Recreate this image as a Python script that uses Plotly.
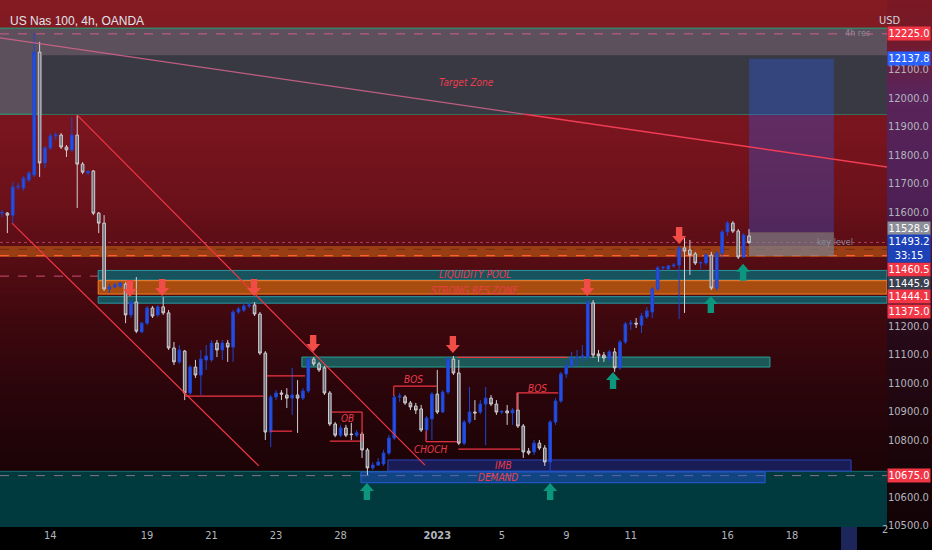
import plotly.graph_objects as go

TITLE = "US Nas 100, 4h, OANDA"

# ---------------- data (4h candles) ----------------
opens = [11596, 11596, 11589, 11688, 11684, 11712, 11730, 12161, 11772, 11825,
         11867, 11870, 11828, 11818, 11870, 11768, 11737, 11744, 11596, 11561,
         11330, 11337, 11340, 11347, 11239, 11284, 11179, 11210, 11263, 11239,
         11267, 11246, 11123, 11074, 11112, 10965, 11056, 11028, 11081, 11081,
         11140, 11116, 11140, 11126, 11249, 11256, 11270, 11274, 11242, 11105,
         10828, 10951, 10965, 10958, 10947, 10958, 10947, 10972, 11084, 11067,
         11053, 10965, 10856, 10817, 10842, 10821, 10817, 10821, 10765, 10702,
         10712, 10716, 10754, 10807, 10951, 10951, 10930, 10919, 10909, 10835,
         10874, 10961, 10898, 10968, 11084, 11035, 10789, 10863, 10898, 10898,
         10926, 10947, 10926, 10898, 10902, 10895, 10905, 10849, 10761, 10758,
         10789, 10772, 10723, 10863, 10937, 11032, 11060, 11088, 11091, 11091,
         11281, 11102, 11098, 11084, 11109, 11053, 11144, 11207, 11210, 11203,
         11232, 11249, 11330, 11404, 11400, 11411, 11414, 11474, 11467, 11453,
         11421, 11421, 11449, 11333, 11456, 11530, 11561, 11533, 11442, 11516]
highs = [11607, 11600, 11705, 11702, 11726, 11744, 12228, 12197, 11832, 11877,
         11881, 11877, 11835, 11933, 11940, 11775, 11747, 11747, 11600, 11589,
         11347, 11351, 11354, 11354, 11291, 11372, 11214, 11270, 11270, 11274,
         11302, 11256, 11144, 11133, 11116, 11063, 11081, 11116, 11133, 11151,
         11151, 11151, 11151, 11256, 11267, 11281, 11284, 11284, 11249, 11112,
         10958, 10975, 10975, 10982, 11053, 11010, 10982, 11091, 11091, 11074,
         11060, 10972, 10863, 10853, 10853, 10860, 10835, 10828, 10772, 10723,
         10737, 10765, 10817, 10958, 10965, 10958, 10937, 10930, 10923, 10884,
         10968, 11046, 10975, 11091, 11095, 11081, 10870, 10986, 10940, 10940,
         10986, 10958, 10940, 10905, 10923, 10912, 10965, 10856, 10772, 10800,
         10800, 10782, 10870, 10947, 11039, 11081, 11109, 11116, 11133, 11291,
         11291, 11116, 11109, 11116, 11123, 11151, 11214, 11221, 11228, 11246,
         11267, 11337, 11411, 11411, 11414, 11421, 11481, 11509, 11502, 11460,
         11425, 11456, 11460, 11463, 11537, 11568, 11568, 11540, 11526, 11540]
lows = [11582, 11526, 11561, 11677, 11674, 11705, 11723, 11723, 11754, 11818,
        11853, 11821, 11793, 11811, 11614, 11733, 11730, 11589, 11526, 11323,
        11316, 11333, 11333, 11210, 11228, 11175, 11175, 11203, 11228, 11232,
        11239, 11116, 11063, 11067, 10940, 10958, 11018, 10958, 11046, 11074,
        11091, 11081, 11074, 11074, 11242, 11249, 11263, 11235, 11098, 10800,
        10775, 10940, 10940, 10912, 10888, 10825, 10940, 10965, 11060, 11039,
        10958, 10849, 10810, 10810, 10810, 10800, 10810, 10737, 10677, 10695,
        10709, 10709, 10747, 10800, 10933, 10923, 10905, 10891, 10828, 10800,
        10800, 10891, 10895, 10961, 11028, 10782, 10782, 10856, 10870, 10891,
        10782, 10919, 10888, 10891, 10853, 10853, 10842, 10737, 10747, 10747,
        10765, 10709, 10684, 10853, 10930, 11018, 11053, 11060, 11074, 11081,
        11088, 11074, 11074, 11074, 11039, 11046, 11137, 11186, 11193, 11175,
        11225, 11228, 11323, 11396, 11396, 11404, 11225, 11246, 11379, 11414,
        11400, 11414, 11326, 11323, 11439, 11516, 11526, 11435, 11439, 11488]
closes = [11598, 11589, 11688, 11690, 11719, 11737, 12161, 11772, 11825, 11867,
          11870, 11828, 11818, 11870, 11768, 11740, 11742, 11596, 11561, 11330,
          11337, 11344, 11351, 11239, 11284, 11182, 11210, 11263, 11235, 11267,
          11246, 11123, 11074, 11116, 10965, 11056, 11028, 11084, 11095, 11140,
          11116, 11140, 11126, 11249, 11260, 11270, 11274, 11242, 11105, 10828,
          10951, 10965, 10961, 10947, 10958, 10947, 10972, 11084, 11067, 11046,
          10965, 10856, 10817, 10842, 10817, 10819, 10825, 10765, 10702, 10712,
          10723, 10754, 10807, 10951, 10954, 10930, 10916, 10905, 10835, 10877,
          10961, 10898, 10968, 11084, 11035, 10789, 10863, 10898, 10895, 10926,
          10947, 10926, 10898, 10900, 10895, 10905, 10849, 10758, 10754, 10789,
          10772, 10723, 10863, 10937, 11032, 11060, 11088, 11090, 11095, 11281,
          11098, 11095, 11088, 11109, 11053, 11144, 11207, 11210, 11207, 11235,
          11253, 11330, 11404, 11406, 11411, 11414, 11474, 11463, 11449, 11421,
          11423, 11449, 11333, 11456, 11530, 11561, 11533, 11442, 11519, 11493.2]
candle_idx = list(range(len(closes)))

date_tick_idx = [9, 27, 39, 51, 63, 81, 93, 105, 117, 135, 147]
date_tick_text = ["14", "19", "21", "23", "28", "<b>2023</b>", "5", "9", "11", "16", "18"]
# price ticks that are not covered by the right-axis price labels
price_ticks = [10500, 10600, 10800, 10900, 11000, 11100, 11200,
               11600, 11700, 11800, 11900, 12000, 12100]

# zones (index range, price range)
target_outer = [12245, 11943]
target_inner_start = 7.45
target_inner = [12150, 11943]
position_x = [139, 154.8]
position_tp, position_entry, position_stop = 12137.8, 11528.9, 11445.9
key_level = [11481, 11442]
key_level_lines = [11469, 11447]
zones_start = 17.9
liquidity_pool = [11395, 11361]
strong_res = [11359, 11312]
lower_band = [11303, 11280]
mid_zone_x = [55.8, 142.9]
mid_zone = [11091, 11056]
demand_top = 10690
demand_box_x = [66.8, 142.0]
demand_box = [10688, 10650]
imb_box_x = [71.8, 158.0]
imb_box = [10730, 10691]
level_12225 = 12225
level_11375 = 11375
level_10675 = 10675
last_price = 11493.2

# trend lines (index, price)
long_line = [(-0.37, 12211), (164.68, 11758)]
channel_upper = [(14, 11940), (78.7, 10712)]
channel_lower = [(1.86, 11561), (47.8, 10709)]
# horizontal structure lines: (x0, x1, price)
struct_lines = [(34.0, 48.6, 10954), (49.3, 56.4, 11025), (49.9, 54.0, 10831),
                (61.4, 67.0, 10898), (61.0, 66.6, 10796),
                (72.9, 80.9, 10989), (78.9, 84.7, 10794), (84.9, 96.4, 10768),
                (95.8, 103.5, 10965), (84.7, 105.2, 11090)]
# vertical structure lines: (x, p0, p1)
struct_vlines = [(67.0, 10898, 10796), (72.9, 10989, 10954), (78.9, 10794, 10832),
                 (95.8, 10965, 10905)]

down_arrows = [(23.8, 11302), (29.8, 11305), (46.9, 11305), (57.9, 11109),
               (83.9, 11105), (108.9, 11305), (126.0, 11488)]
up_arrows = [(67.9, 10649), (102.0, 10649), (113.7, 11039), (131.9, 11305), (137.9, 11418)]

zone_texts = [("Target Zone", 86.5, 12053), ("LIQUIDITY POOL", 88.0, 11379),
              ("STRONG RES ZONE", 88.0, 11324), ("BOS", 76.5, 11014),
              ("BOS", 99.6, 10982), ("CHOCH", 79.8, 10768), ("OB", 64.2, 10874),
              ("IMB", 93.4, 10709), ("DEMAND", 92.3, 10670)]

# right-axis price labels: text, price, bg, yshift(px)
axis_labels = [("12225.0", 12225, "#f23645", 0), ("12137.8", 12137.8, "#2962ff", 0),
               ("11528.9", 11528.9, "#8d9099", 4), ("11460.5", 11460.5, "#f23645", -18),
               ("11445.9", 11445.9, "#3b4050", -27.5), ("11444.1", 11444.1, "#f23645", -40),
               ("11375.0", 11375.0, "#f23645", -35), ("10675.0", 10675.0, "#f23645", 0)]

# ---------------- geometry ----------------
W, H = 932, 550
ML, MR, MT, MB = 0, 45, 0, 23
PW, PH = W - ML - MR, H - MT - MB
X_RANGE = [-0.37, 164.68]
Y_RANGE = [10494.7, 12343.9]
DX = (X_RANGE[1] - X_RANGE[0]) / PW
DY = (Y_RANGE[1] - Y_RANGE[0]) / PH
FONT = "Liberation Sans Narrow, DejaVu Sans Condensed, Arial Narrow, sans-serif"
RED = "#f23645"

shapes = []


def interp(stops, px):
    for (p0, c0), (p1, c1) in zip(stops, stops[1:]):
        if p0 <= px <= p1:
            t = (px - p0) / (p1 - p0) if p1 > p0 else 0
            return "rgb(%d,%d,%d)" % tuple(round(a + (b - a) * t) for a, b in zip(c0, c1))
    return "rgb(%d,%d,%d)" % stops[-1][1]


plot_stops = [(0, (132, 27, 35)), (120, (122, 21, 30)), (200, (108, 17, 26)),
              (260, (86, 12, 20)), (320, (62, 8, 14)), (400, (40, 5, 10)),
              (470, (28, 4, 7)), (527, (22, 3, 6))]
panel_stops = [(0, (122, 24, 34)), (40, (116, 26, 42)), (90, (90, 36, 90)),
               (200, (78, 32, 86)), (260, (60, 22, 58)), (330, (40, 10, 24)),
               (450, (26, 5, 10)), (527, (18, 3, 6))]
N = 100
for i in range(N):
    a, b = PH * i / N, PH * (i + 1) / N
    y0p = max(0, 1 - (b + 0.8) / PH)
    y1p = 1 - a / PH
    shapes.append(dict(type="rect", xref="paper", yref="paper", x0=0, x1=1,
                       y0=y0p, y1=y1p, fillcolor=interp(plot_stops, (a + b) / 2),
                       line=dict(width=0), layer="below"))
    shapes.append(dict(type="rect", xref="paper", yref="paper", x0=1, x1=W / PW,
                       y0=y0p, y1=y1p, fillcolor=interp(panel_stops, (a + b) / 2),
                       line=dict(width=0), layer="below"))


def rect(x0, x1, y0, y1, fill, line=None, lw=1, xref="x", layer="below"):
    shapes.append(dict(type="rect", xref=xref, yref="y", x0=x0, x1=x1, y0=y0, y1=y1,
                       fillcolor=fill, line=dict(width=lw if line else 0, color=line or fill),
                       layer=layer))


def hline(p, color, dash="solid", lw=1, x0=0, x1=1, xref="paper", layer="below"):
    shapes.append(dict(type="line", xref=xref, yref="y", x0=x0, x1=x1, y0=p, y1=p,
                       line=dict(color=color, width=lw, dash=dash), layer=layer))


# top target zone
rect(0, 1, target_outer[1], target_outer[0], "rgb(92,80,92)", xref="paper")
rect(target_inner_start, X_RANGE[1], target_inner[1], target_inner[0], "rgb(57,57,68)")
hline(target_outer[0], "rgb(55,130,105)", lw=1.5)
hline(target_outer[1], "rgb(55,130,105)", lw=1.5)
hline(level_12225, "rgba(225,95,140,0.9)", dash="dash")

# key level (orange band)
rect(0, 1, key_level[1], key_level[0], "rgba(165,72,20,0.85)", xref="paper")
hline(key_level_lines[0], "rgba(110,40,15,0.9)", dash="dash")
hline(key_level_lines[1], "rgb(255,95,45)", dash="dash", lw=1.2)
hline(last_price, "rgba(210,70,100,0.8)", dash="dot")

# liquidity / strong res bands
rect(zones_start, X_RANGE[1], liquidity_pool[1], liquidity_pool[0], "rgb(24,82,92)", "rgb(40,150,160)")
rect(zones_start, X_RANGE[1], strong_res[1], strong_res[0], "rgb(168,76,16)", "rgb(250,130,40)")
rect(zones_start, X_RANGE[1], lower_band[1], lower_band[0], "rgb(24,82,92)", "rgb(40,150,160)")
hline(level_11375, "rgba(225,90,130,0.85)", dash="dash")

# middle zone
rect(mid_zone_x[0], mid_zone_x[1], mid_zone[1], mid_zone[0], "rgb(28,88,88)", "rgb(40,160,150)")

# demand
rect(0, 1, Y_RANGE[0] - 200, demand_top, "rgb(0,58,62)", xref="paper")
hline(demand_top, "rgb(20,110,115)")
rect(imb_box_x[0], imb_box_x[1], imb_box[1], imb_box[0], "rgba(25,45,140,0.6)", "rgb(40,70,190)")
rect(demand_box_x[0], demand_box_x[1], demand_box[1], demand_box[0], "rgba(35,85,210,0.45)", "rgb(40,90,220)")
hline(level_10675, "rgba(170,130,150,0.8)", dash="dash")

# position tool
rect(position_x[0], position_x[1], position_entry, position_tp, "rgba(41,98,255,0.3)")
rect(position_x[0], position_x[1], position_stop, position_entry, "rgba(125,128,140,0.7)")

# x-axis highlight
shapes.append(dict(type="rect", xref="paper", yref="paper", x0=841 / PW, x1=857 / PW,
                   y0=-MB / PH, y1=0, fillcolor="rgb(28,38,90)", line=dict(width=0)))


def seg(p0, p1, color, lw=1.2, layer="above"):
    shapes.append(dict(type="line", xref="x", yref="y", x0=p0[0], y0=p0[1], x1=p1[0], y1=p1[1],
                       line=dict(color=color, width=lw), layer=layer))


# long diagonal: pink inside the grey zone, red below it
(lx0, ly0), (lx1, ly1) = long_line
t = (target_outer[1] - ly0) / (ly1 - ly0)
mid = (lx0 + t * (lx1 - lx0), target_outer[1])
seg((lx0, ly0), mid, "rgba(215,100,140,0.85)")
seg(mid, (lx1, ly1), "rgb(240,60,85)", lw=1.4)
seg(*channel_upper, RED, lw=1.2)
seg(*channel_lower, RED, lw=1.2)
for x0, x1, p in struct_lines:
    seg((x0, p), (x1, p), RED, lw=1.2)
for xv, p0, p1 in struct_vlines:
    seg((xv, p0), (xv, p1), RED, lw=1.2)


def arrow(xc, yt, up, color):
    hw, sw, hh, tl = 7, 3.2, 8, 17
    d = -1 if up else 1
    pts = [(0, 0), (-hw, d * hh), (-sw, d * hh), (-sw, d * tl), (sw, d * tl), (sw, d * hh), (hw, d * hh)]
    path = "M" + " L".join("%f,%f" % (xc + px * DX, yt + py * DY) for px, py in pts) + " Z"
    shapes.append(dict(type="path", xref="x", yref="y", path=path, fillcolor=color,
                       line=dict(width=0), layer="above"))


for xa, pa in down_arrows:
    arrow(xa, pa, False, "rgb(240,76,72)")
for xa, pa in up_arrows:
    arrow(xa, pa, True, "rgb(12,150,125)")

# ---------------- figure ----------------
fig = go.Figure(go.Candlestick(
    x=candle_idx, open=opens, high=highs, low=lows, close=closes,
    increasing=dict(line=dict(color="#1f45d0", width=1), fillcolor="#2550e8"),
    decreasing=dict(line=dict(color="#cfcfd4", width=1), fillcolor="#6e6e76"),
    whiskerwidth=0, hoverinfo="skip", showlegend=False))

annotations = []
for txt, xi, p in zone_texts:
    annotations.append(dict(x=xi, y=p, xref="x", yref="y", text=txt, showarrow=False,
                            font=dict(family=FONT, size=10, color="rgb(235,60,75)", style="italic")))
annotations.append(dict(x=855 / PW, y=11493.2, xref="paper", yref="y", text="key level",
                        showarrow=False, font=dict(family=FONT, size=9, color="#8a8d96")))
annotations.append(dict(x=872 / PW, y=1 - 26 / PH, xref="paper", yref="paper", text="4h res",
                        showarrow=False, font=dict(family=FONT, size=9, color="#8a8d96")))
annotations.append(dict(x=8 / PW, y=1 - 12 / PH, xref="paper", yref="paper", text=TITLE,
                        xanchor="left", showarrow=False,
                        font=dict(family="Liberation Sans, Arial, sans-serif", size=12, color="#e0e3eb")))
annotations.append(dict(x=903 / PW, y=1 - 12 / PH, xref="paper", yref="paper", text="USD",
                        showarrow=False, font=dict(family=FONT, size=11, color="#d1d4dc")))
annotations.append(dict(x=890 / PW, y=-11 / PH, xref="paper", yref="paper", text="2",
                        showarrow=False, font=dict(family=FONT, size=11, color="#b2b5be")))
for txt, p, bg, ys in axis_labels:
    annotations.append(dict(x=1, y=p, xref="paper", yref="y", xanchor="left", text=txt,
                            showarrow=False, bgcolor=bg, width=42, height=13, borderpad=0,
                            yshift=ys, font=dict(family=FONT, size=11, color="white")))
annotations.append(dict(x=1, y=last_price, xref="paper", yref="y", xanchor="left", yanchor="top",
                        text="11493.2<br>33:15", showarrow=False, bgcolor="#1d42b8", width=42,
                        borderpad=0, yshift=8, align="center",
                        font=dict(family=FONT, size=11, color="white")))

fig.update_layout(
    width=W, height=H, margin=dict(l=ML, r=MR, t=MT, b=MB),
    paper_bgcolor="#000000", plot_bgcolor="rgba(0,0,0,0)",
    shapes=shapes, annotations=annotations, showlegend=False,
    xaxis=dict(range=X_RANGE, tickvals=date_tick_idx, ticktext=date_tick_text,
               showgrid=False, zeroline=False, showline=False, ticks="",
               rangeslider=dict(visible=False),
               tickfont=dict(family=FONT, size=11, color="#b2b5be")),
    yaxis=dict(range=Y_RANGE, side="right", tickvals=price_ticks, tickformat=".1f",
               showgrid=False, zeroline=False, showline=False, ticks="",
               tickfont=dict(family=FONT, size=11, color="#b2b5be")),
)

fig.write_html("out.html", config={"displayModeBar": False},
               post_script="document.body.style.margin='0';document.body.style.overflow='hidden';")
